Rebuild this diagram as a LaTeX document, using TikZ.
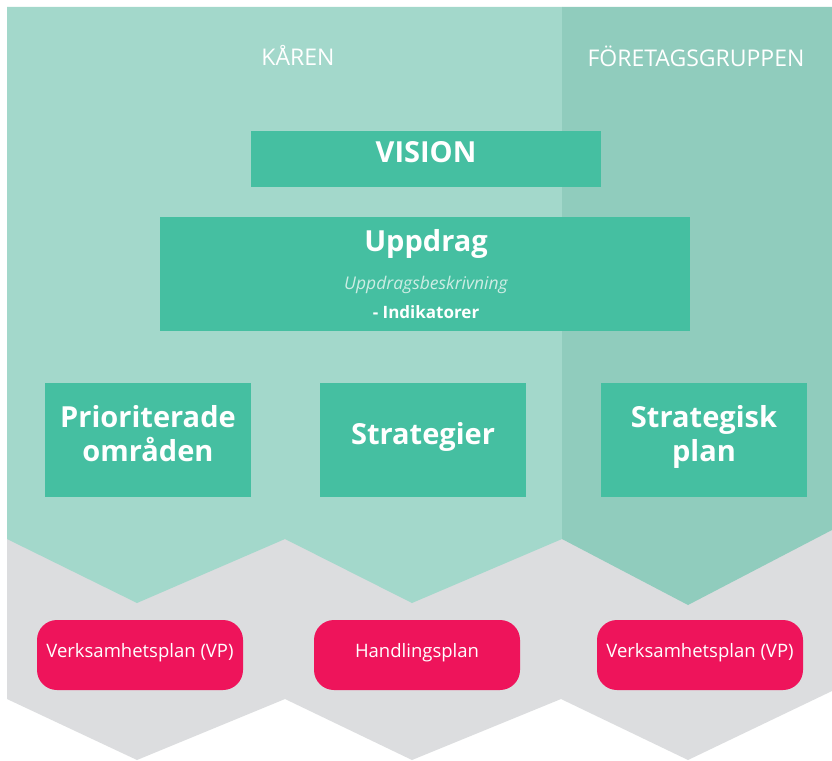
\documentclass[tikz,border=0pt]{standalone}
\usepackage{fontspec}
\setmainfont{Open Sans}
\usepackage{tikz}

\definecolor{karen}{HTML}{A3D8CB}
\definecolor{foretag}{HTML}{90CCBD}
\definecolor{boxgreen}{HTML}{45BFA1}
\definecolor{plangray}{HTML}{DCDDDF}
\definecolor{planpink}{HTML}{EE145B}
\definecolor{paletext}{HTML}{CDEDE4}

\begin{document}
\begin{tikzpicture}[x=1pt,y=-1pt,
            box/.style={rectangle,fill=boxgreen,text=white,align=center,
              font=\fontsize{29}{34}\selectfont\bfseries,inner sep=0pt,text depth=14pt},
            pill/.style={rectangle,rounded corners=20pt,fill=planpink,text=white,
              minimum width=206pt,minimum height=70pt,inner sep=0pt,text depth=9pt,
              font=\fontsize{18.5}{22}\selectfont},
            head/.style={text=white,font=\fontsize{23}{26}\selectfont}]

          \useasboundingbox (0,0) rectangle (832,760);
          \fill[white] (0,0) rectangle (832,760);

          % background bands
          \fill[plangray] (7,520) -- (832,520) -- (832,691) -- (688,760) -- (561,699)
                -- (412,760) -- (285,699) -- (137,760) -- (7,699) -- cycle;
          \fill[karen] (7,7) -- (562,7) -- (562,539) -- (412,603) -- (285,539)
                -- (137,603) -- (7,539) -- cycle;
          \fill[foretag] (562,7) -- (832,7) -- (832,530) -- (688,605) -- (562,539) -- cycle;

          \node[head] (karen)   at (298,55) {KÅREN};
          \node[head] (foretag) at (696,56) {FÖRETAGSGRUPPEN};

          \node[box,minimum width=350pt,minimum height=56pt] (vision) at (426,159) {VISION};

          \node[box,minimum width=530pt,minimum height=114pt] (uppdrag) at (425,274) {};
          \node[text=white,font=\fontsize{29}{34}\selectfont\bfseries] (uppdragtitle) at (426,244) {Uppdrag};
          \node[text=paletext,font=\fontsize{17.5}{20}\selectfont\itshape] (beskrivning) at (426,285) {Uppdragsbeskrivning};
          \node[text=white,font=\fontsize{17}{20}\selectfont\bfseries] (indikatorer) at (426,312) {- Indikatorer};

          \node[box,minimum width=206pt,minimum height=114pt] (omraden)    at (148,440) {Prioriterade\\områden};
          \node[box,minimum width=206pt,minimum height=114pt] (strategier) at (423,440) {Strategier};
          \node[box,minimum width=206pt,minimum height=114pt] (strategisk) at (704,440) {Strategisk\\plan};

          \node[pill] (vpkaren)   at (140,655) {Verksamhetsplan (VP)};
          \node[pill] (handling)  at (417,655) {Handlingsplan};
          \node[pill] (vpforetag) at (700,655) {Verksamhetsplan (VP)};
        \end{tikzpicture}
\end{document}
